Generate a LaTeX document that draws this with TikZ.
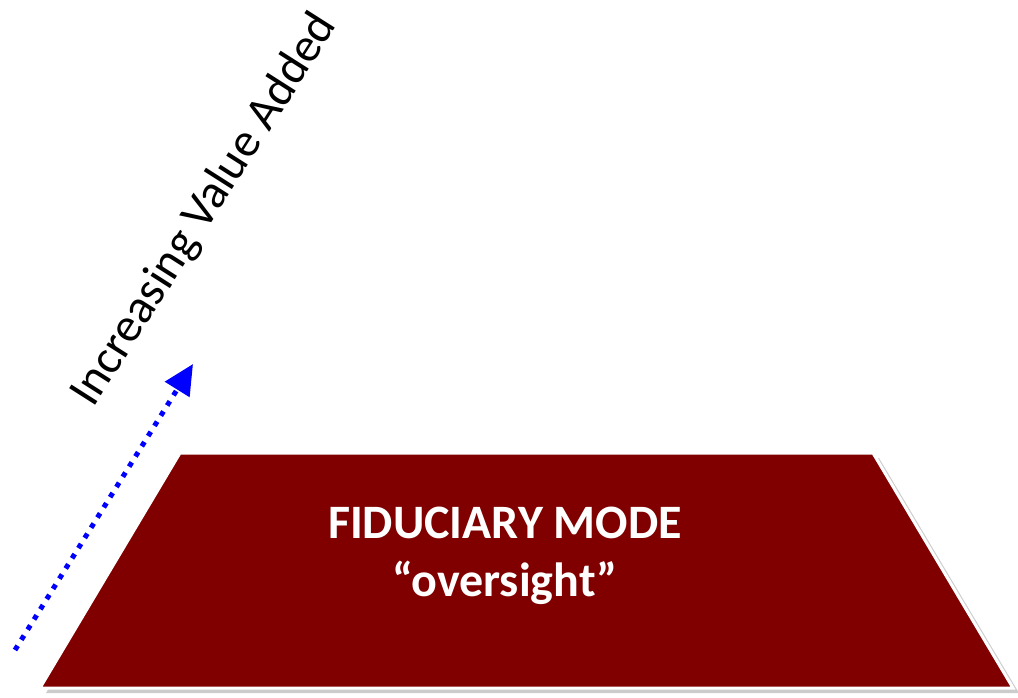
\documentclass[tikz,border=0pt]{standalone}
\usepackage{fontspec}
\setmainfont{Carlito}
\usetikzlibrary{arrows.meta,shadows}

\definecolor{modered}{RGB}{128,0,0}
\definecolor{valueblue}{RGB}{0,0,255}

\tikzset{
    modebase/.style={fill=modered, draw=white, line width=3pt, line join=miter,
        drop shadow={shadow xshift=6pt, shadow yshift=-5pt, opacity=0.4, fill=black!50}},
    modetext/.style={text=white, font=\bfseries\fontsize{48}{58}\selectfont, align=center},
    valuearrow/.style={draw=valueblue, line width=5pt, dash pattern=on 5pt off 7pt,
        -{Triangle[length=30pt,width=28pt]}},
    valuetext/.style={font=\fontsize{48}{50}\selectfont, rotate=57.5, anchor=base west, inner sep=0pt}
}

\begin{document}
\begin{tikzpicture}[x=1pt,y=-1pt]
    \useasboundingbox (0,0) rectangle (1018,697);

    \coordinate (bl) at (40,688);
    \coordinate (tl) at (180,453);
    \coordinate (tr) at (873,453);
    \coordinate (br) at (1013,688);
    \path[modebase] (bl) -- (tl) -- (tr) -- (br) -- cycle;

    \node[modetext] (mode) at (505,556) {FIDUCIARY MODE\\“oversight”};

    \coordinate (lo) at (15,650);
    \coordinate (hi) at (193,364);
    \draw[valuearrow] (lo) -- (hi);

    \node[valuetext] (value) at (93,409) {Increasing Value Added};
\end{tikzpicture}
\end{document}
